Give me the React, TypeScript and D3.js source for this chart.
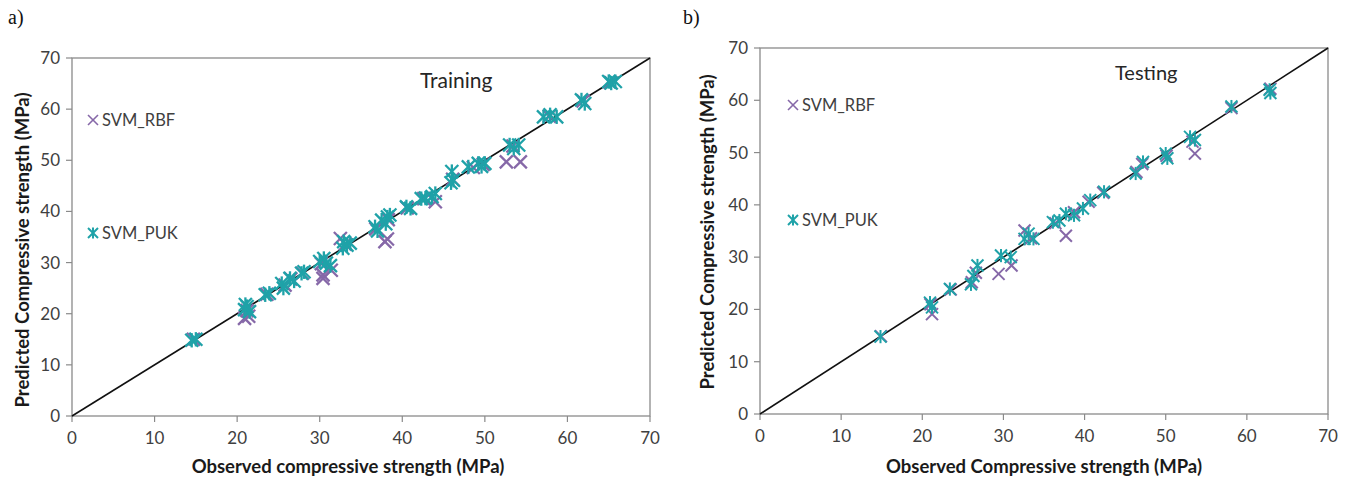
import React from "react";
import * as d3 from "d3";

// ---- Data ----
const ticks = [0, 10, 20, 30, 40, 50, 60, 70];

const trainObsPUK = [14.5, 15.0, 20.9, 21.2, 21.5, 21.0, 23.4, 23.9, 25.4, 25.6, 26.4, 26.9, 27.8, 28.1, 30.0, 30.8, 30.5, 31.3, 32.9, 33.3, 33.7, 32.8, 36.7, 37.0, 37.5, 38.0, 38.5, 38.2, 40.5, 41.0, 42.3, 42.8, 43.6, 44.0, 46.0, 46.2, 45.9, 48.0, 49.2, 50.0, 49.6, 53.0, 54.1, 53.5, 57.1, 57.9, 58.7, 61.7, 62.1, 65.0, 65.8, 65.3];
const trainPredPUK = [14.8, 15.0, 20.8, 21.4, 20.4, 21.8, 23.7, 24.0, 25.9, 25.0, 26.9, 26.4, 27.9, 28.2, 30.2, 29.9, 30.8, 29.4, 34.1, 33.4, 33.8, 32.8, 37.0, 36.2, 38.3, 37.6, 39.3, 38.9, 40.9, 40.6, 42.5, 42.6, 42.9, 43.5, 47.8, 46.1, 45.6, 48.7, 49.4, 49.4, 48.8, 53.0, 53.0, 52.3, 58.5, 58.9, 58.5, 61.8, 61.1, 65.4, 65.4, 65.1];

const trainObsRBF = [14.7, 20.9, 21.4, 21.2, 23.6, 25.8, 26.5, 27.9, 30.4, 30.4, 31.4, 30.2, 32.5, 33.1, 36.8, 37.9, 38.2, 38.3, 40.6, 42.6, 44.0, 46.1, 48.6, 49.8, 52.6, 54.3, 53.4, 57.8, 61.9, 65.2];
const trainPredRBF = [15.0, 19.1, 19.5, 20.6, 23.8, 25.6, 26.8, 27.9, 26.9, 27.6, 28.5, 29.8, 34.7, 33.6, 36.6, 34.1, 34.6, 38.4, 40.7, 42.5, 41.9, 46.3, 48.6, 49.2, 49.7, 49.7, 52.8, 58.6, 61.6, 65.2];

const testObsPUK = [14.85, 20.95, 21.2, 23.4, 26.0, 26.3, 26.8, 29.7, 30.9, 32.6, 33.1, 33.7, 36.1, 36.9, 37.7, 38.7, 39.8, 40.7, 42.4, 46.3, 47.2, 50.0, 50.2, 53.0, 53.6, 58.1, 62.8, 62.9];
const testPredPUK = [14.8, 21.3, 20.4, 23.9, 24.8, 26.4, 28.4, 30.3, 30.0, 33.5, 34.5, 33.5, 36.7, 37.0, 38.3, 38.0, 39.3, 40.9, 42.5, 46.0, 48.2, 49.8, 48.9, 53.0, 52.4, 58.8, 62.0, 61.4];

const testObsRBF = [14.9, 21.0, 21.2, 23.5, 26.1, 26.6, 29.4, 31.0, 32.6, 33.4, 36.4, 37.7, 38.7, 40.5, 42.3, 46.4, 47.1, 50.1, 53.3, 53.6, 58.1, 62.9];
const testPredRBF = [14.9, 21.0, 19.1, 23.8, 25.2, 27.0, 26.8, 28.4, 35.1, 33.6, 36.5, 34.1, 38.6, 40.6, 42.3, 46.3, 47.8, 49.4, 52.1, 49.8, 58.5, 62.2];

const seriesNames = ["SVM_RBF", "SVM_PUK"];

const PURPLE = "#8668a8";
const TEAL = "#1fa2a8";
const AXIS = "#8a8a8a";
const FONT = "Lato, 'Open Sans', sans-serif";

type PanelProps = {
  x0: number; x1: number; y0: number; y1: number;
  obsRBF: number[]; predRBF: number[]; obsPUK: number[]; predPUK: number[];
  tag: string; tagX: number;
  title: string; titleX: number; titleY: number; titleSize: number;
  xLabel: string; xLabelX: number; yLabel: string; yLabelX: number; yLabelY: number;
  legX: number; legY1: number; legY2: number;
  ms: number; sw: number;
};

function XMark({ cx, cy, s, color, sw }: any) {
  return (
    <g stroke={color} strokeWidth={sw} strokeLinecap="butt">
      <line x1={cx - s} y1={cy - s} x2={cx + s} y2={cy + s} />
      <line x1={cx - s} y1={cy + s} x2={cx + s} y2={cy - s} />
    </g>
  );
}
function StarMark({ cx, cy, s, color, sw }: any) {
  return (
    <g stroke={color} strokeWidth={sw} strokeLinecap="butt">
      <line x1={cx - s} y1={cy - s} x2={cx + s} y2={cy + s} />
      <line x1={cx - s} y1={cy + s} x2={cx + s} y2={cy - s} />
      <line x1={cx} y1={cy - s * 1.1} x2={cx} y2={cy + s * 1.1} />
    </g>
  );
}

function Panel(p: PanelProps) {
  const xs = d3.scaleLinear().domain([0, 70]).range([p.x0, p.x1]);
  const ys = d3.scaleLinear().domain([0, 70]).range([p.y0, p.y1]);
  const line = d3.line<number>().x((d) => xs(d)).y((d) => ys(d));
  return (
    <g>
      <text x={p.tagX} y={24} fontFamily="'Liberation Serif', 'DejaVu Serif', serif" fontSize={20} fill="#111">{p.tag}</text>
      <rect x={p.x0} y={p.y1} width={p.x1 - p.x0} height={p.y0 - p.y1} fill="none" stroke={AXIS} strokeWidth={1.3} />
      {ticks.map((t) => (
        <g key={"x" + t}>
          <line x1={xs(t)} x2={xs(t)} y1={p.y0} y2={p.y0 + 6} stroke={AXIS} strokeWidth={1.2} />
          <text x={xs(t)} y={p.y0 + 28} textAnchor="middle" fontFamily={FONT} fontSize={17} fill="#404040">{t}</text>
        </g>
      ))}
      {ticks.map((t) => (
        <g key={"y" + t}>
          <line x1={p.x0 - 6} x2={p.x0} y1={ys(t)} y2={ys(t)} stroke={AXIS} strokeWidth={1.2} />
          <text x={p.x0 - 12} y={ys(t) + 6} textAnchor="end" fontFamily={FONT} fontSize={17} fill="#404040">{t}</text>
        </g>
      ))}
      <path d={line([0, 70]) || ""} stroke="#111" strokeWidth={1.6} fill="none" />
      {p.obsRBF.map((o, i) => (
        <XMark key={"r" + i} cx={xs(o)} cy={ys(p.predRBF[i])} s={p.ms} color={PURPLE} sw={p.sw} />
      ))}
      {p.obsPUK.map((o, i) => (
        <StarMark key={"p" + i} cx={xs(o)} cy={ys(p.predPUK[i])} s={p.ms} color={TEAL} sw={p.sw} />
      ))}
      <text x={p.titleX} y={p.titleY} fontFamily={FONT} fontSize={p.titleSize} fill="#262626">{p.title}</text>
      <XMark cx={p.legX} cy={p.legY1} s={5} color={PURPLE} sw={1.6} />
      <text x={p.legX + 9} y={p.legY1 + 6} fontFamily={FONT} fontSize={16.5} fill="#404040">{seriesNames[0]}</text>
      <StarMark cx={p.legX} cy={p.legY2} s={5} color={TEAL} sw={2} />
      <text x={p.legX + 9} y={p.legY2 + 6} fontFamily={FONT} fontSize={16.5} fill="#404040">{seriesNames[1]}</text>
      <text x={p.xLabelX} y={473} textAnchor="middle" fontFamily={FONT} fontWeight="bold" fontSize={18.5} fill="#1a1a1a">{p.xLabel}</text>
      <text transform={`translate(${p.yLabelX},${p.yLabelY}) rotate(-90)`} textAnchor="middle" fontFamily={FONT} fontWeight="bold" fontSize={18.5} fill="#1a1a1a">{p.yLabel}</text>
    </g>
  );
}

export default function App() {
  return (
    <svg width={1355} height={481} style={{ position: "absolute", left: 0, top: 0, background: "#fff" }}>
      <rect width={1355} height={481} fill="#fff" />
      <Panel
        x0={72} x1={650} y0={416} y1={58}
        obsRBF={trainObsRBF} predRBF={trainPredRBF} obsPUK={trainObsPUK} predPUK={trainPredPUK}
        tag="a)" tagX={8}
        title="Training" titleX={420} titleY={88} titleSize={21}
        xLabel="Observed compressive strength (MPa)" xLabelX={348}
        yLabel="Predicted Compressive strength (MPa)" yLabelX={29} yLabelY={250}
        legX={93} legY1={120} legY2={233}
        ms={6.5} sw={2.3}
      />
      <Panel
        x0={760} x1={1328} y0={414} y1={48}
        obsRBF={testObsRBF} predRBF={testPredRBF} obsPUK={testObsPUK} predPUK={testPredPUK}
        tag="b)" tagX={683}
        title="Testing" titleX={1115} titleY={80} titleSize={20}
        xLabel="Observed Compressive strength (MPa)" xLabelX={1044}
        yLabel="Predicted Compressive strength (MPa)" yLabelX={714} yLabelY={232}
        legX={793} legY1={105} legY2={220}
        ms={6} sw={2}
      />
    </svg>
  );
}
